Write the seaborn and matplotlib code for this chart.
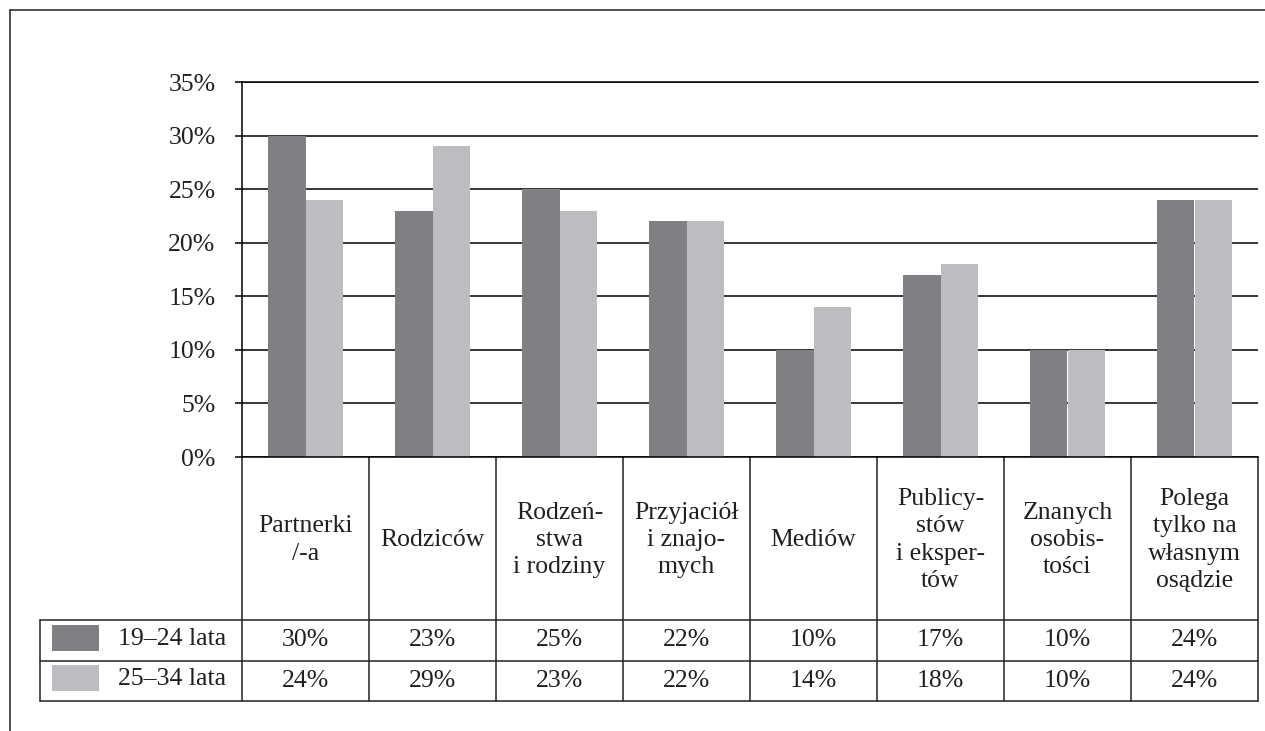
import matplotlib
matplotlib.use("Agg")
import matplotlib.pyplot as plt
import matplotlib.transforms as mtransforms
from matplotlib.patches import Rectangle
from matplotlib.lines import Line2D
import seaborn as sns
import pandas as pd

categories = ["Partnerki\n/-a", "Rodziców", "Rodzeń-\nstwa\ni rodziny",
              "Przyjaciół\ni znajo-\nmych", "Mediów", "Publicy-\nstów\ni eksper-\ntów",
              "Znanych\nosobis-\ntości", "Polega\ntylko na\nwłasnym\nosądzie"]
series_names = ["19–24 lata", "25–34 lata"]
values_1924 = [30, 23, 25, 22, 10, 17, 10, 24]
values_2534 = [24, 29, 23, 22, 14, 18, 10, 24]
yticks = [0, 5, 10, 15, 20, 25, 30, 35]
colors = ["#808084", "#bcbdc0"]

sns.set_theme(style="white")
plt.rcParams['font.family'] = ['Liberation Serif', 'DejaVu Serif']

FS = 18.5
TXT = "#231f20"

df = pd.DataFrame({
    "cat": list(range(len(categories))) * 2,
    "val": values_1924 + values_2534,
    "grp": [series_names[0]] * len(categories) + [series_names[1]] * len(categories),
})

W, H = 1265, 731
fig = plt.figure(figsize=(W / 100, H / 100), dpi=100)
ax = fig.add_axes([242 / W, 1 - 457 / H, (1258 - 242) / W, (457 - 82) / H])

sns.barplot(data=df, x="cat", y="val", hue="grp", palette=colors, width=0.59,
            gap=0, saturation=1, legend=False, ax=ax, linewidth=0)

ax.set_xlim(-0.5, len(categories) - 0.5)
ax.set_ylim(0, 35)
ax.set_yticks(yticks)
ax.set_yticklabels([f"{t}%" for t in yticks], fontsize=FS)
ax.set_xticks([])
ax.set_xlabel("")
ax.set_ylabel("")
ax.yaxis.grid(True, color="black", lw=1.1)
ax.set_axisbelow(True)
ax.tick_params(axis="y", left=True, length=5, width=1.1, color="black", pad=14, labelcolor=TXT)
ax.spines["right"].set_visible(False)
for s in ["left", "bottom", "top"]:
    ax.spines[s].set_color("black")
    ax.spines[s].set_linewidth(1.1)

# table in blended coords (x: data, y: axes fraction)
trans = mtransforms.blended_transform_factory(ax.transData, ax.transAxes)
ax_h = 457 - 82
def yax(py):
    return (457 - py) / ax_h

y0, y1, y2, y3 = yax(457), yax(620), yax(661), yax(701)
n = len(categories)
x_left_table = -0.5 - (242 - 40) / ((1258 - 242) / n)
lw = 1.1
lc = "#222222"
def line(xs, ys):
    ax.add_line(Line2D(xs, ys, transform=trans, color=lc, lw=lw, clip_on=False))

line([x_left_table, n - 0.5], [y1, y1])
line([x_left_table, n - 0.5], [y2, y2])
line([x_left_table, n - 0.5], [y3, y3])
for i in range(n + 1):
    line([i - 0.5, i - 0.5], [y0, y3])
line([x_left_table, x_left_table], [y1, y3])

for i, c in enumerate(categories):
    ax.text(i, (y0 + y1) / 2 - 0.004, c, transform=trans, ha="center", va="center",
            fontsize=FS, linespacing=1.3, color=TXT)
    ax.text(i, (y1 + y2) / 2, f"{values_1924[i]}%", transform=trans, ha="center",
            va="center", fontsize=FS, color=TXT)
    ax.text(i, (y2 + y3) / 2, f"{values_2534[i]}%", transform=trans, ha="center",
            va="center", fontsize=FS, color=TXT)

# legend swatches and row labels (figure pixel coords)
ftr = fig.transFigure
for k, (name, col) in enumerate(zip(series_names, colors)):
    top = 625 + k * 40
    fig.patches.append(Rectangle((52 / W, 1 - (top + 26) / H), 47 / W, 26 / H,
                                 transform=ftr, facecolor=col, edgecolor="none"))
    fig.text(172 / W, 1 - (top + 14) / H, name, ha="center", va="center",
             fontsize=FS, color=TXT)

# figure frame (top and left)
fig.lines.append(Line2D([10 / W, 1], [1 - 10 / H, 1 - 10 / H], transform=ftr, color=lc, lw=1.1))
fig.lines.append(Line2D([10 / W, 10 / W], [0, 1 - 10 / H], transform=ftr, color=lc, lw=1.1))

fig.savefig("out.png", dpi=100)
